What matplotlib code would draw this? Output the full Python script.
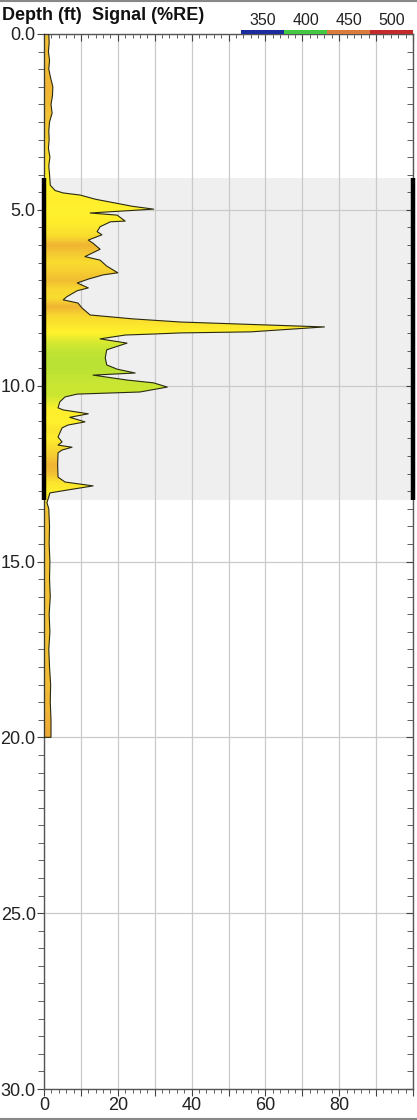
import numpy as np
import matplotlib
matplotlib.use('Agg')
from matplotlib import pyplot as plt
from matplotlib.colors import LinearSegmentedColormap, Normalize
from matplotlib.ticker import MultipleLocator, FuncFormatter
from matplotlib.patches import Rectangle
from matplotlib.lines import Line2D

plt.rcParams['font.family'] = ['Liberation Sans', 'DejaVu Sans']

# signal profile: depth (ft) and signal (%RE)
depth = [0.0, 0.25, 0.5, 0.75, 1.0, 1.25, 1.5, 1.75, 2.0, 2.25, 2.5, 2.75,
         3.0, 3.25, 3.5, 3.75, 4.0, 4.3, 4.45, 4.52, 4.58, 4.70, 4.78, 4.90,
         4.98, 5.09, 5.15, 5.32, 5.34, 5.48, 5.62, 5.71, 5.86, 5.95, 6.12,
         6.33, 6.43, 6.60, 6.79, 6.85, 6.97, 7.08, 7.22, 7.30, 7.47, 7.56,
         7.65, 7.79, 7.99, 8.10, 8.19, 8.33, 8.47, 8.50, 8.53, 8.56, 8.67,
         8.79, 8.98, 9.21, 9.41, 9.53, 9.64, 9.70, 9.84, 9.92, 10.04, 10.18,
         10.24, 10.32, 10.46, 10.63, 10.69, 10.80, 10.90, 11.03, 11.12, 11.20,
         11.46, 11.60, 11.69, 11.75, 11.83, 11.91, 12.25, 12.60, 12.74, 12.85,
         12.97, 13.05, 13.33, 13.5, 14.0, 14.5, 15.0, 15.5, 16.0, 16.5, 17.0,
         17.5, 18.0, 18.5, 19.0, 19.5, 20.0]
signal = [1.3, 1.4, 1.2, 1.5, 1.3, 1.8, 2.4, 2.3, 1.9, 2.2, 1.5, 1.3,
          1.4, 1.2, 1.6, 1.3, 1.5, 1.7, 3.0, 5.2, 9.8, 14.0, 18.0, 24.0,
          29.7, 12.5, 19.8, 22.0, 18.0, 15.2, 14.4, 15.7, 12.0, 13.3, 15.2,
          11.1, 15.2, 17.0, 20.0, 16.0, 12.0, 9.0, 12.0, 9.0, 6.2, 5.2,
          9.2, 10.3, 12.5, 24.0, 37.0, 76.0, 56.0, 37.0, 30.0, 22.0, 15.2,
          22.5, 17.0, 16.6, 17.0, 19.8, 24.7, 13.3, 22.5, 29.7, 33.4, 26.0,
          9.0, 5.7, 4.3, 3.8, 5.2, 12.0, 7.0, 11.1, 6.5, 4.9,
          3.8, 4.9, 3.8, 7.6, 4.9, 3.8, 3.7, 3.8, 5.7, 13.3,
          6.2, 1.6, 0.8, 1.3, 1.5, 1.4, 1.6, 1.5, 1.7, 1.4, 1.6,
          1.3, 1.5, 1.8, 1.7, 1.9, 1.9]

# dominant colour (nm) in 0.25 ft steps from 0 to 20 ft
color_step = 0.25
peak_nm = [436, 436, 437, 436, 437, 438, 439, 438, 437, 436, 435, 434,
           433, 431, 430, 428, 426, 425, 425, 426, 425, 426, 427, 430,
           439, 434, 430, 433, 437, 431, 430, 439, 431, 428, 425, 420,
           417, 416, 416, 417, 418, 418, 422, 426, 425, 428, 426, 430,
           434, 439, 436, 428, 426, 430, 435, 436, 436, 436, 436, 436,
           436, 436, 436, 436, 436, 436, 436, 436, 436, 436, 436, 436,
           437, 437, 437, 438, 438, 439, 440, 441, 441]

# colour scale legend
legend_nm = [350, 400, 450, 500]
legend_colors = ['#1c2c9e', '#42c842', '#dc7c3c', '#c42a2a']

# tested interval
shade_top, shade_bottom = 4.1, 13.25

cmap = LinearSegmentedColormap.from_list(
    'nm', [(0.0, '#1c2c9e'), (1 / 3, '#42c842'), (0.5, '#fff22c'),
           (2 / 3, '#e4843a'), (1.0, '#c42a2a')])
norm = Normalize(350, 500)

fig = plt.figure(figsize=(4.17, 11.2), dpi=100)
ax = fig.add_axes([44 / 417, 1 - 1089 / 1120, 369 / 417, 1055 / 1120])

ax.axhspan(shade_top, shade_bottom, color='#efefef', zorder=0, lw=0)
ax.set_axisbelow(True)
ax.grid(True, which='major', color='#cacaca', lw=0.9)

# gradient fill clipped to the signal curve
img = np.array(peak_nm, dtype=float).reshape(-1, 1)
half = color_step / 2
bottom = color_step * (len(peak_nm) - 1) + half
im = ax.imshow(img, cmap=cmap, norm=norm, aspect='auto',
               interpolation='bilinear',
               extent=(0, max(signal), bottom, -half), zorder=2)
poly = ax.fill_betweenx(depth, 0, signal, facecolor='none',
                        edgecolor='#2a2a10', lw=0.8, zorder=3)
im.set_clip_path(poly.get_paths()[0], transform=ax.transData)

ax.set_xlim(0, 100)
ax.set_ylim(30, 0)

# heavy marks along the tested interval
ax.plot([0, 0], [shade_top, shade_bottom], color='black', lw=3.2,
        solid_capstyle='butt', zorder=5, clip_on=False)
ax.plot([100, 100], [shade_top, shade_bottom], color='black', lw=3.2,
        solid_capstyle='butt', zorder=5, clip_on=False)

ax.xaxis.set_major_locator(MultipleLocator(10))
ax.xaxis.set_minor_locator(MultipleLocator(2))
ax.xaxis.set_major_formatter(
    FuncFormatter(lambda v, p: '%d' % v if v % 20 == 0 and v < 100 else ''))
ax.yaxis.set_major_locator(MultipleLocator(5))
ax.yaxis.set_minor_locator(MultipleLocator(0.5))
ax.yaxis.set_major_formatter(FuncFormatter(lambda v, p: '%.1f' % v))

ax.tick_params(axis='y', which='both', left=True, right=True,
               direction='out', colors='#444444', labelsize=13,
               labelcolor='#222222')
ax.tick_params(axis='y', which='major', length=5, pad=1)
ax.tick_params(axis='y', which='minor', length=4)
ax.tick_params(axis='x', which='both', top=True, bottom=True,
               direction='out', colors='#444444', labelsize=13,
               labelcolor='#222222')
ax.tick_params(axis='x', which='major', length=5, pad=1)
ax.tick_params(axis='x', which='minor', length=3)
for t in ax.yaxis.get_ticklines(minor=False)[1::2] + ax.yaxis.get_ticklines(minor=True)[1::2]:
    t.set_marker(0)
for t in ax.xaxis.get_ticklines(minor=False)[1::2] + ax.xaxis.get_ticklines(minor=True)[1::2]:
    t.set_marker(3)
for s in ax.spines.values():
    s.set_color('#555555')
    s.set_linewidth(1.0)

# headers
fig.text(2 / 417, 1 - 16 / 1120, 'Depth (ft)', fontsize=13,
         fontweight='bold', va='center', ha='left', color='#111111')
fig.text(92 / 417, 1 - 16 / 1120, 'Signal (%RE)', fontsize=13,
         fontweight='bold', va='center', ha='left', color='#111111')

# colour scale bar along the top
bar_left = 53.5
bar_w = (100 - bar_left) / len(legend_nm)
for i, (nm, c) in enumerate(zip(legend_nm, legend_colors)):
    x0 = bar_left + i * bar_w
    ax.add_patch(Rectangle((x0, 1.0), bar_w, 0.0038, facecolor=c,
                           edgecolor='none', transform=ax.get_xaxis_transform(),
                           clip_on=False, zorder=6))
    ax.text(x0 + bar_w / 2, 1.006, str(nm), fontsize=11.5, ha='center',
            va='bottom', color='#222222', transform=ax.get_xaxis_transform())

# thin frame lines at the top and bottom of the image
fig.add_artist(Line2D([0, 1], [0.9995, 0.9995], color='#888888', lw=1.5))
fig.add_artist(Line2D([0, 1], [0.001, 0.001], color='#888888', lw=1.5))

fig.savefig('out.png', dpi=100)
